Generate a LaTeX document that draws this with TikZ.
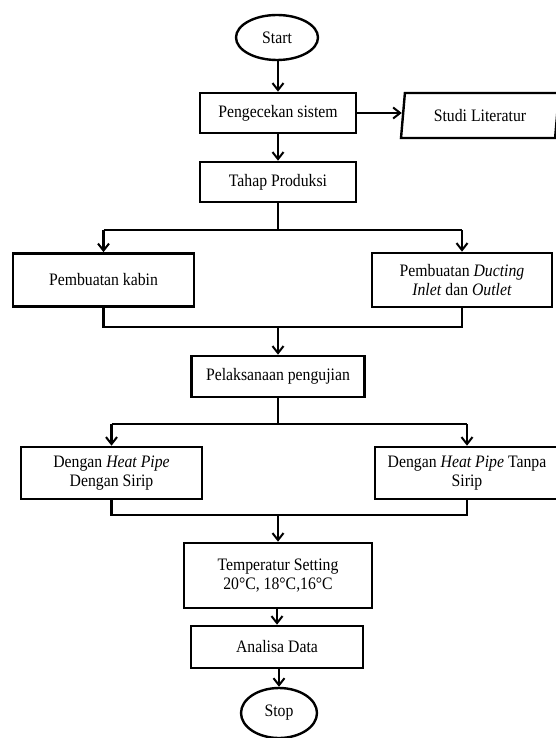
\documentclass[tikz,border=0pt]{standalone}
\usepackage{fontspec}
\setmainfont{Liberation Serif}[FakeStretch=0.9]
\usetikzlibrary{arrows.meta,shapes.geometric}
\begin{document}
\begin{tikzpicture}[x=1pt,y=-1pt,
  txt/.style={font=\fontsize{17.5}{19.5}\selectfont},
  box/.style={txt, draw, line width=2.6pt, rectangle, align=center, inner sep=2pt},
  term/.style={txt, draw, line width=2.4pt, ellipse, inner sep=0pt},
  iobox/.style={txt, draw, line width=2.4pt, trapezium, trapezium left angle=79, trapezium right angle=101, trapezium stretches=true, inner sep=0pt},
  conn/.style={line width=2.2pt},
  arr/.style={conn, -{Straight Barb[length=7pt,width=11pt,line width=2pt]}}
]
\useasboundingbox (0,0) rectangle (556,738);
\fill[white] (0,0) rectangle (556,738);

\node[term, minimum width=82pt, minimum height=45pt] (start) at (277,37.5) {Start};
\node[box, minimum width=156pt, minimum height=40pt] (peng) at (278,113) {Pengecekan sistem};
\node[iobox, minimum width=158pt, minimum height=45pt] (studi) at (480,115.5) {Studi Literatur};
\node[box, minimum width=156pt, minimum height=40pt] (tahap) at (278,182) {Tahap Produksi};
\node[box, minimum width=181pt, minimum height=53pt] (kabin) at (103.5,280) {Pembuatan kabin};
\node[box, minimum width=180pt, minimum height=54pt] (duct) at (462,280) {Pembuatan \textit{Ducting}\\\textit{Inlet} dan \textit{Outlet}};
\node[box, minimum width=173pt, minimum height=41pt] (pelak) at (278,376.5) {Pelaksanaan pengujian};
\node[box, minimum width=181pt, minimum height=52pt] (hps) at (111.5,473) {Dengan \textit{Heat Pipe}\\Dengan Sirip};
\node[box, minimum width=184pt, minimum height=52pt] (hpt) at (467,473) {Dengan \textit{Heat Pipe} Tanpa\\Sirip};
\node[box, minimum width=188pt, minimum height=65pt] (temp) at (278,575.5) {Temperatur Setting\\20°C, 18°C,16°C};
\node[box, minimum width=172pt, minimum height=42pt] (anal) at (277,647) {Analisa Data};
\node[term, minimum width=76pt, minimum height=50pt] (stop) at (279,713) {Stop};

\coordinate (s1) at (278,230);
\coordinate (m1) at (278,327);
\coordinate (s2) at (278,424);
\coordinate (m2) at (278,515);

\draw[arr] (start.south -| peng.north) -- (peng.north);
\draw[arr] (peng.south) -- (tahap.north);
\draw[arr] (peng.east) -- (studi.west |- peng.east);

\draw[conn] (tahap.south) -- (s1);
\draw[conn] (kabin.north |- s1) -- (duct.north |- s1);
\draw[arr] (kabin.north |- s1) -- (kabin.north);
\draw[arr] (duct.north |- s1) -- (duct.north);

\draw[conn] (kabin.south) -- (kabin.south |- m1) -- (duct.south |- m1) -- (duct.south);
\draw[arr] (m1) -- (pelak.north);

\draw[conn] (pelak.south) -- (s2);
\draw[conn] (hps.north |- s2) -- (hpt.north |- s2);
\draw[arr] (hps.north |- s2) -- (hps.north);
\draw[arr] (hpt.north |- s2) -- (hpt.north);

\draw[conn] (hps.south) -- (hps.south |- m2) -- (hpt.south |- m2) -- (hpt.south);
\draw[arr] (m2) -- (temp.north);

\draw[arr] (temp.south -| anal.north) -- (anal.north);
\draw[arr] (anal.south -| stop.north) -- (stop.north);
\end{tikzpicture}
\end{document}
